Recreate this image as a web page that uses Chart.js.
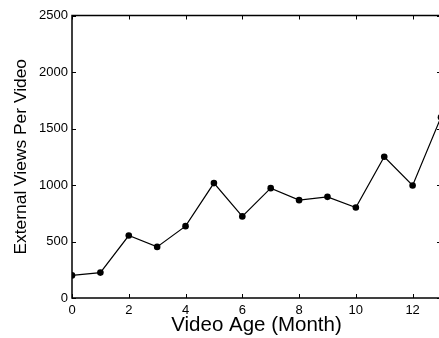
<!DOCTYPE html>
<html>
<head>
<meta charset="utf-8">
<script src="https://cdn.jsdelivr.net/npm/chart.js@4/dist/chart.umd.min.js"></script>
<style>
  html, body { margin: 0; padding: 0; background: #fff; overflow: hidden; }
  #wrap { position: absolute; left: 0; top: 0; width: 460px; height: 338px; }
</style>
</head>
<body>
<div id="wrap"><canvas id="chart" width="460" height="338"></canvas></div>
<script>
// Video age in months and the average external views per video at that age
const months = [0, 1, 2, 3, 4, 5, 6, 7, 8, 9, 10, 11, 12, 13];
const views = [200, 225, 553, 452, 636, 1017, 722, 972, 866, 895, 801, 1250, 996, 1600];
const xTicks = [0, 2, 4, 6, 8, 10, 12];
const yTicks = [0, 500, 1000, 1500, 2000, 2500];

const FONT = "'Liberation Sans', Arial, Helvetica, sans-serif";

// Frame around the plot area plus short inward tick marks on all four sides
const framePlugin = {
  id: 'frame',
  afterDraw(chart) {
    const { ctx, chartArea: a, scales } = chart;
    const len = 4;
    ctx.save();
    ctx.strokeStyle = '#000';
    ctx.lineWidth = 1;
    ctx.beginPath();
    xTicks.forEach(v => {
      const px = Math.round(scales.x.getPixelForValue(v)) + 0.5;
      ctx.moveTo(px, a.bottom); ctx.lineTo(px, a.bottom - len);
      ctx.moveTo(px, a.top); ctx.lineTo(px, a.top + len);
    });
    yTicks.forEach(v => {
      const py = Math.round(scales.y.getPixelForValue(v)) + 0.5;
      ctx.moveTo(a.left, py); ctx.lineTo(a.left + len, py);
      ctx.moveTo(a.right, py); ctx.lineTo(a.right - len, py);
    });
    ctx.stroke();
    ctx.lineWidth = 1.5;
    ctx.strokeRect(a.left, a.top, a.right - a.left, a.bottom - a.top);
    ctx.restore();
  }
};

new Chart(document.getElementById('chart'), {
  type: 'scatter',
  data: {
    datasets: [{
      data: months.map((m, i) => ({ x: m, y: views[i] })),
      showLine: true,
      borderColor: '#000',
      borderWidth: 1.2,
      backgroundColor: '#000',
      pointBackgroundColor: '#000',
      pointBorderColor: '#000',
      pointRadius: 3.3,
      pointBorderWidth: 0,
      tension: 0
    }]
  },
  options: {
    responsive: false,
    animation: false,
    devicePixelRatio: 1,
    layout: { padding: { top: 15.5, right: 19, left: 0, bottom: 0 } },
    plugins: { legend: { display: false }, tooltip: { enabled: false } },
    scales: {
      x: {
        type: 'linear',
        min: 0,
        max: 13,
        afterFit(scale) { scale.height = 40; },
        afterBuildTicks(scale) { scale.ticks = xTicks.map(v => ({ value: v })); },
        grid: { display: false, drawTicks: false },
        border: { display: false },
        ticks: {
          color: '#000',
          padding: 5,
          maxRotation: 0,
          callback: v => String(v),
          font: { family: FONT, size: 13 }
        },
        title: {
          display: true,
          text: 'Video Age (Month)',
          color: '#000',
          padding: { top: 0, bottom: 0 },
          font: { family: FONT, size: 20.5, lineHeight: 1.2 }
        }
      },
      y: {
        type: 'linear',
        min: 0,
        max: 2500,
        afterFit(scale) { scale.width = 72; },
        afterBuildTicks(scale) { scale.ticks = yTicks.map(v => ({ value: v })); },
        grid: { display: false, drawTicks: false },
        border: { display: false },
        ticks: {
          color: '#000',
          padding: 4,
          callback: v => String(v),
          font: { family: FONT, size: 13 }
        },
        title: {
          display: true,
          text: 'External Views Per Video',
          color: '#000',
          padding: { top: 11, bottom: 0 },
          font: { family: FONT, size: 17.4, lineHeight: 1.2 }
        }
      }
    }
  },
  plugins: [framePlugin]
});
</script>
</body>
</html>
